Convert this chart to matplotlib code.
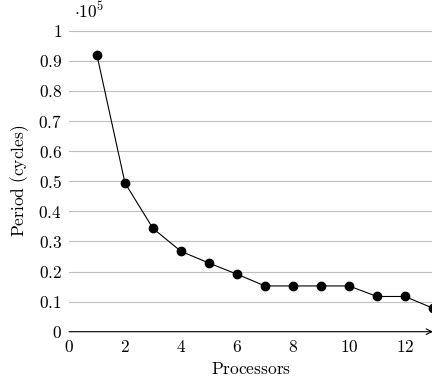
import numpy as np
import matplotlib.pyplot as plt

plt.rcParams['mathtext.fontset'] = 'cm'
plt.rcParams['font.family'] = 'serif'
plt.rcParams['font.serif'] = ['DejaVu Serif']

# data (period in units of 1e5 cycles)
processors = [1, 2, 3, 4, 5, 6, 7, 8, 9, 10, 11, 12, 13]
period = [0.918, 0.494, 0.343, 0.267, 0.228, 0.191, 0.152, 0.152, 0.152, 0.152, 0.117, 0.117, 0.078]
xticks = [0, 2, 4, 6, 8, 10, 12]
yticks = [0, 0.1, 0.2, 0.3, 0.4, 0.5, 0.6, 0.7, 0.8, 0.9, 1]

W, H = 432, 383
fs = 12.5
fig = plt.figure(figsize=(W / 100, H / 100), dpi=100)
ax = fig.add_axes([69 / W, (H - 331.7) / H, (433 - 69) / W, 301 / H])

ax.plot(processors, period, color='black', lw=0.8, marker='o', markersize=6, zorder=3)

ax.set_xlim(0, 13)
ax.set_ylim(0, 1)
ax.set_xticks(xticks)
ax.set_xticklabels([f'${t}$' for t in xticks], fontsize=fs)
ax.set_yticks(yticks)
ax.set_yticklabels([f'${t:g}$' for t in yticks], fontsize=fs)
ax.tick_params(length=0, pad=5)
ax.grid(axis='y', color='#bfbfbf', lw=0.8)
ax.set_axisbelow(True)
for s in ax.spines.values():
    s.set_visible(False)

ax.annotate('', xy=(1, 0), xytext=(0, 0), xycoords='axes fraction',
            arrowprops=dict(arrowstyle='->', lw=0.8, color='black', shrinkA=0, shrinkB=0),
            annotation_clip=False)

ax.text(0.015, 1.03, r'$\cdot 10^5$', transform=ax.transAxes, fontsize=fs, va='bottom')
ax.set_xlabel(r'$\mathrm{Processors}$', fontsize=fs, labelpad=4)
ax.set_ylabel(r'$\mathrm{Period\ (cycles)}$', fontsize=fs, labelpad=5)

fig.savefig('out.png', dpi=100)
